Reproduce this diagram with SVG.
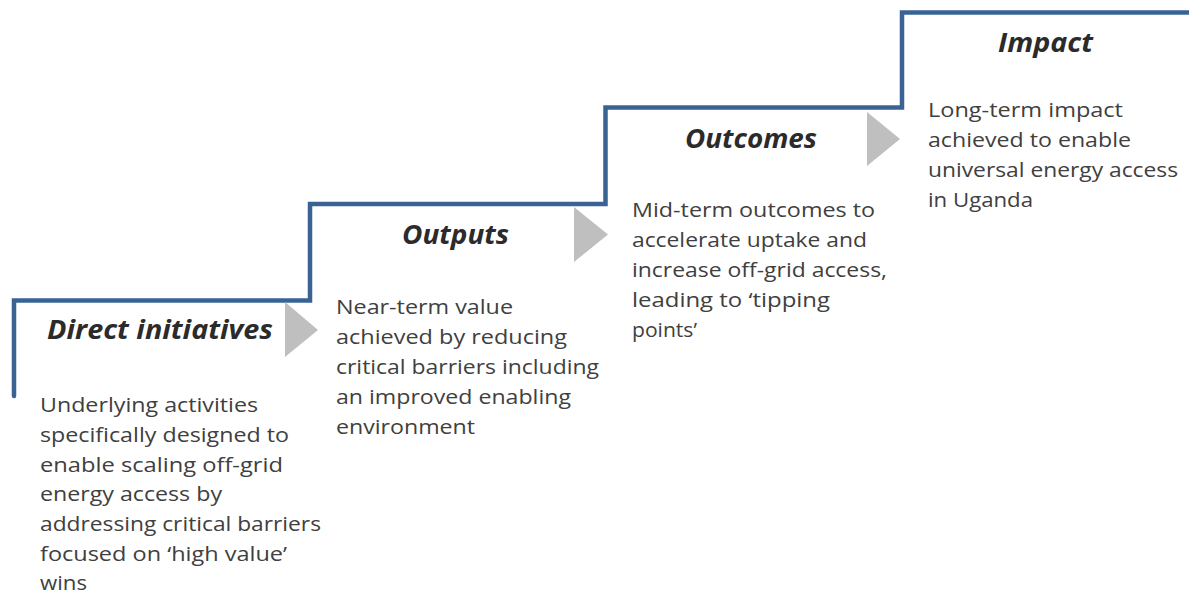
<svg xmlns="http://www.w3.org/2000/svg" width="1189" height="596" viewBox="0 0 1189 596">
<style>
.step{fill:none;stroke:#3a6394;stroke-width:4.5;stroke-linejoin:miter;stroke-linecap:round}
.arrow{fill:#bfbfbf;stroke:none}
.title{font-family:"Open Sans","Noto Sans","Liberation Sans",sans-serif;font-weight:bold;font-style:italic;font-size:27px;fill:#2b2b2b}
.body{font-family:"Open Sans","Noto Sans","Liberation Sans",sans-serif;font-size:20px;fill:#404040}
</style>
<rect width="1189" height="596" fill="#ffffff"/>
<g id="connectors">
<path class="step" d="M14,396 V300.5 H310 V204 H605.5 V107.5 H902 V12.5 H1192"/>
<polygon class="arrow" points="285,302 318,330 285,357"/>
<polygon class="arrow" points="574,207 608,234.5 574,262"/>
<polygon class="arrow" points="867,112 900,139 867,166"/>
</g>
<g id="direct-initiatives">
<text class="title" x="47" y="339" textLength="226" lengthAdjust="spacingAndGlyphs">Direct initiatives</text>
<text class="body" x="40" y="412" textLength="218" lengthAdjust="spacingAndGlyphs">Underlying activities</text>
<text class="body" x="40" y="442" textLength="249" lengthAdjust="spacingAndGlyphs">specifically designed to</text>
<text class="body" x="40" y="472" textLength="243" lengthAdjust="spacingAndGlyphs">enable scaling off-grid</text>
<text class="body" x="40" y="501" textLength="182" lengthAdjust="spacingAndGlyphs">energy access by</text>
<text class="body" x="40" y="531" textLength="281" lengthAdjust="spacingAndGlyphs">addressing critical barriers</text>
<text class="body" x="40" y="561" textLength="247" lengthAdjust="spacingAndGlyphs">focused on ‘high value’</text>
<text class="body" x="40" y="590" textLength="47" lengthAdjust="spacingAndGlyphs">wins</text>
</g>
<g id="outputs">
<text class="title" x="402" y="244" textLength="107" lengthAdjust="spacingAndGlyphs">Outputs</text>
<text class="body" x="336" y="314" textLength="177" lengthAdjust="spacingAndGlyphs">Near-term value</text>
<text class="body" x="336" y="344" textLength="231" lengthAdjust="spacingAndGlyphs">achieved by reducing</text>
<text class="body" x="336" y="374" textLength="263" lengthAdjust="spacingAndGlyphs">critical barriers including</text>
<text class="body" x="336" y="404" textLength="235" lengthAdjust="spacingAndGlyphs">an improved enabling</text>
<text class="body" x="336" y="434" textLength="139" lengthAdjust="spacingAndGlyphs">environment</text>
</g>
<g id="outcomes">
<text class="title" x="685" y="148" textLength="132" lengthAdjust="spacingAndGlyphs">Outcomes</text>
<text class="body" x="632" y="217" textLength="243" lengthAdjust="spacingAndGlyphs">Mid-term outcomes to</text>
<text class="body" x="632" y="247" textLength="235" lengthAdjust="spacingAndGlyphs">accelerate uptake and</text>
<text class="body" x="632" y="277" textLength="255" lengthAdjust="spacingAndGlyphs">increase off-grid access,</text>
<text class="body" x="632" y="307" textLength="198" lengthAdjust="spacingAndGlyphs">leading to ‘tipping</text>
<text class="body" x="632" y="337" textLength="65" lengthAdjust="spacingAndGlyphs">points’</text>
</g>
<g id="impact">
<text class="title" x="998" y="52" textLength="95" lengthAdjust="spacingAndGlyphs">Impact</text>
<text class="body" x="928" y="117" textLength="195" lengthAdjust="spacingAndGlyphs">Long-term impact</text>
<text class="body" x="928" y="147" textLength="203" lengthAdjust="spacingAndGlyphs">achieved to enable</text>
<text class="body" x="928" y="177" textLength="250" lengthAdjust="spacingAndGlyphs">universal energy access</text>
<text class="body" x="928" y="207" textLength="105" lengthAdjust="spacingAndGlyphs">in Uganda</text>
</g>
</svg>
